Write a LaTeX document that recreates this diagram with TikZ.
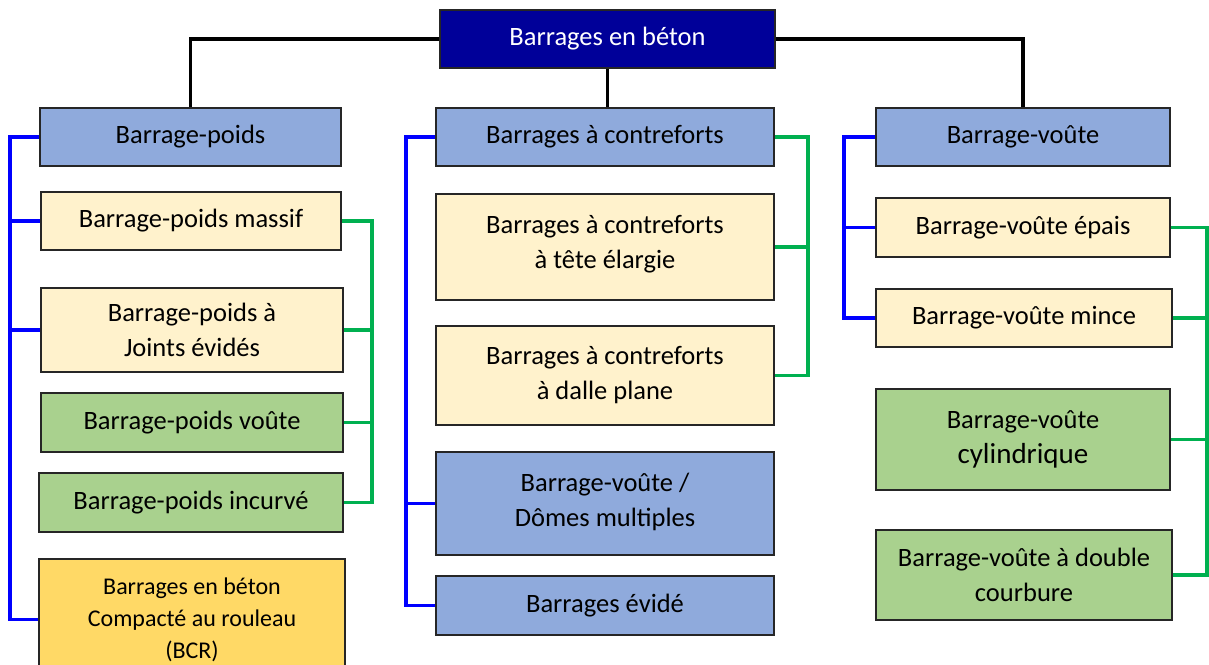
\documentclass[tikz,border=0pt]{standalone}
\usepackage{fontspec}
\setmainfont{Carlito}
\usetikzlibrary{positioning}
\definecolor{navy}{HTML}{000099}
\definecolor{typeblue}{HTML}{8FAADC}
\definecolor{paleyellow}{HTML}{FFF2CC}
\definecolor{leafgreen}{HTML}{A9D18E}
\definecolor{gold}{HTML}{FFD966}
\definecolor{busblue}{HTML}{0000FF}
\definecolor{busgreen}{HTML}{00B050}
\definecolor{edgegray}{HTML}{262626}
\begin{document}
\begin{tikzpicture}[x=1pt,y=-1pt,font=\fontsize{26.5}{35}\selectfont,
  box/.style={draw=edgegray,line width=1.5pt,align=center,inner sep=0pt,minimum height=58pt},
  trunk/.style={black,line width=3.5pt}, bluebus/.style={busblue,line width=3.5pt},
  greenbus/.style={busgreen,line width=3.5pt}]
\useasboundingbox (0,0) rectangle (1209,664);
\node[box,fill=navy,text=white,minimum width=335pt] (top) at (607.5,39) {Barrages en béton};
% poids
\node[box,fill=typeblue,minimum width=301pt] (poids) at (190.5,137) {Barrage-poids};
\node[box,fill=paleyellow,minimum width=300pt] (massif) at (191,221) {Barrage-poids massif};
\node[box,fill=paleyellow,minimum width=302pt,minimum height=84pt] (joints) at (192,330) {Barrage-poids à\\Joints évidés};
\node[box,fill=leafgreen,minimum width=302pt,minimum height=59pt] (pvoute) at (192,422.5) {Barrage-poids voûte};
\node[box,fill=leafgreen,minimum width=304pt,minimum height=59pt] (incurve) at (191,502.5) {Barrage-poids incurvé};
\node[box,fill=gold,minimum width=306pt,minimum height=121pt,font=\fontsize{24}{32}\selectfont] (bcr) at (192,619.5) {Barrages en béton\\Compacté au rouleau\\(BCR)};
% contreforts
\node[box,fill=typeblue,minimum width=338pt] (contr) at (605,137) {Barrages à contreforts};
\node[box,fill=paleyellow,minimum width=338pt,minimum height=106pt] (tete) at (605,247) {Barrages à contreforts\\à tête élargie\\[-25pt]};
\node[box,fill=paleyellow,minimum width=338pt,minimum height=99pt] (dalle) at (605,375.5) {Barrages à contreforts\\à dalle plane};
\node[box,fill=typeblue,minimum width=338pt,minimum height=103pt] (domes) at (605,503.5) {Barrage-voûte /\\Dômes multiples\\[-27pt]};
\node[box,fill=typeblue,minimum width=338pt,minimum height=59pt] (evide) at (605,605.5) {Barrages évidé};
% voute
\node[box,fill=typeblue,minimum width=294pt] (voute) at (1023,137) {Barrage-voûte};
\node[box,fill=paleyellow,minimum width=294pt,minimum height=59pt] (epais) at (1023,227.5) {Barrage-voûte épais};
\node[box,fill=paleyellow,minimum width=296pt] (mince) at (1024,318) {Barrage-voûte mince};
\node[box,fill=leafgreen,minimum width=294pt,minimum height=101pt] (cyl) at (1023,439.5) {Barrage-voûte\\{\fontsize{29}{35}\selectfont cylindrique}};
\node[box,fill=leafgreen,minimum width=296pt,minimum height=90pt] (double) at (1024,575) {Barrage-voûte à double\\courbure};
\coordinate (lblue) at (10,0); \coordinate (lgreen) at (372,0);
\coordinate (mblue) at (406,0); \coordinate (mgreen) at (808,0);
\coordinate (rblue) at (844,0); \coordinate (rgreen) at (1207,0);
\draw[trunk] (top.west) -| (poids.north);
\draw[trunk] (top.south) -- (top.south |- contr.north);
\draw[trunk] (top.east) -| (voute.north);
\draw[bluebus] (poids.west) -- (poids.west -| lblue) |- (bcr.west);
\foreach \n in {massif,joints} \draw[bluebus] (\n.west) -- (\n.west -| lblue);
\draw[greenbus] (massif.east) -- (massif.east -| lgreen) |- (incurve.east);
\foreach \n in {joints,pvoute} \draw[greenbus] (\n.east) -- (\n.east -| lgreen);
\draw[bluebus] (contr.west) -- (contr.west -| mblue) |- (evide.west);
\draw[bluebus] (domes.west) -- (domes.west -| mblue);
\draw[greenbus] (contr.east) -- (contr.east -| mgreen) |- (dalle.east);
\draw[greenbus] (tete.east) -- (tete.east -| mgreen);
\draw[bluebus] (voute.west) -- (voute.west -| rblue) |- (mince.west);
\draw[bluebus] (epais.west) -- (epais.west -| rblue);
\draw[greenbus] (epais.east) -- (epais.east -| rgreen) |- (double.east);
\draw[greenbus] (mince.east) -- (mince.east -| rgreen);
\draw[greenbus] (cyl.east) -- (cyl.east -| rgreen);
\end{tikzpicture}
\end{document}
